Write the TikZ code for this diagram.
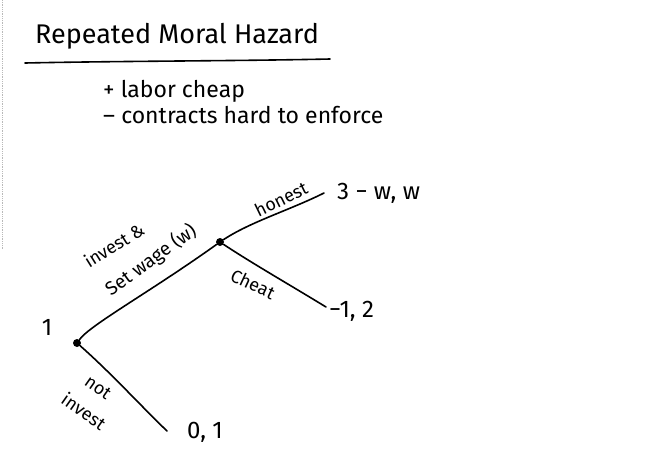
\documentclass[tikz,border=0pt]{standalone}
\usepackage{fontspec}
\setmainfont{Fira Sans}
\begin{document}
\begin{tikzpicture}[x=1pt,y=-1pt,
  ink/.style={line width=1.6pt, line cap=round, line join=round},
  hand/.style={font=\fontsize{23}{25}\selectfont, inner sep=0pt},
  lbl/.style={font=\fontsize{18}{20}\selectfont, inner sep=0pt},
  pay/.style={font=\fontsize{24}{26}\selectfont, inner sep=0pt, anchor=west},
  dot/.style={circle, fill=black, inner sep=0pt, minimum size=8pt}]
\useasboundingbox (0,0) rectangle (652,458);
\draw[gray!55, line width=0.8pt, densely dotted] (2,0) -- (2,250);
\node[font=\fontsize{27}{30}\selectfont, inner sep=0pt] (title) at (177,36) {Repeated Moral Hazard};
\coordinate (ulA) at (25,63);
\coordinate (ulB) at (330,59);
\draw[ink] (ulA) .. controls (120,61) and (240,61) .. (ulB);
\node[hand, anchor=base west] (pro) at (103,97) {+ labor cheap};
\node[hand, anchor=base west] (con) at (103,123) {– contracts hard to enforce};
% tree
\node[dot] (root) at (77,343) {};
\node[dot] (mid) at (220,242) {};
\node[font=\fontsize{24}{26}\selectfont, inner sep=0pt] (p1) at (47,327) {1};
\coordinate (hEnd) at (324,193);
\coordinate (cEnd) at (326,307);
\coordinate (nEnd) at (167,431);
\node[pay] (payH) at (337,193) {3 − w, w};
\node[pay] (payC) at (329,311) {−1, 2};
\node[pay] (payN) at (187,432) {0, 1};
\draw[ink] (root) .. controls (90,325) and (150,292) .. (mid);
\draw[ink] (mid) .. controls (250,222) and (290,210) .. (hEnd);
\draw[ink] (mid) .. controls (250,262) and (290,285) .. (cEnd);
\draw[ink] (root) .. controls (110,372) and (140,405) .. (nEnd);
\node[lbl, rotate=32] (inv) at (114,245) {invest \&};
\node[lbl, rotate=36, font=\fontsize{19}{21}\selectfont] (sw) at (151,260) {Set wage (w)};
\node[lbl, rotate=26] (hon) at (281,199) {honest};
\node[lbl, rotate=-25] (ch) at (253,284) {Cheat};
\node[lbl, rotate=-35] (nt) at (98,388) {not};
\node[lbl, rotate=-35] (inv2) at (84,411) {invest};
\end{tikzpicture}
\end{document}
